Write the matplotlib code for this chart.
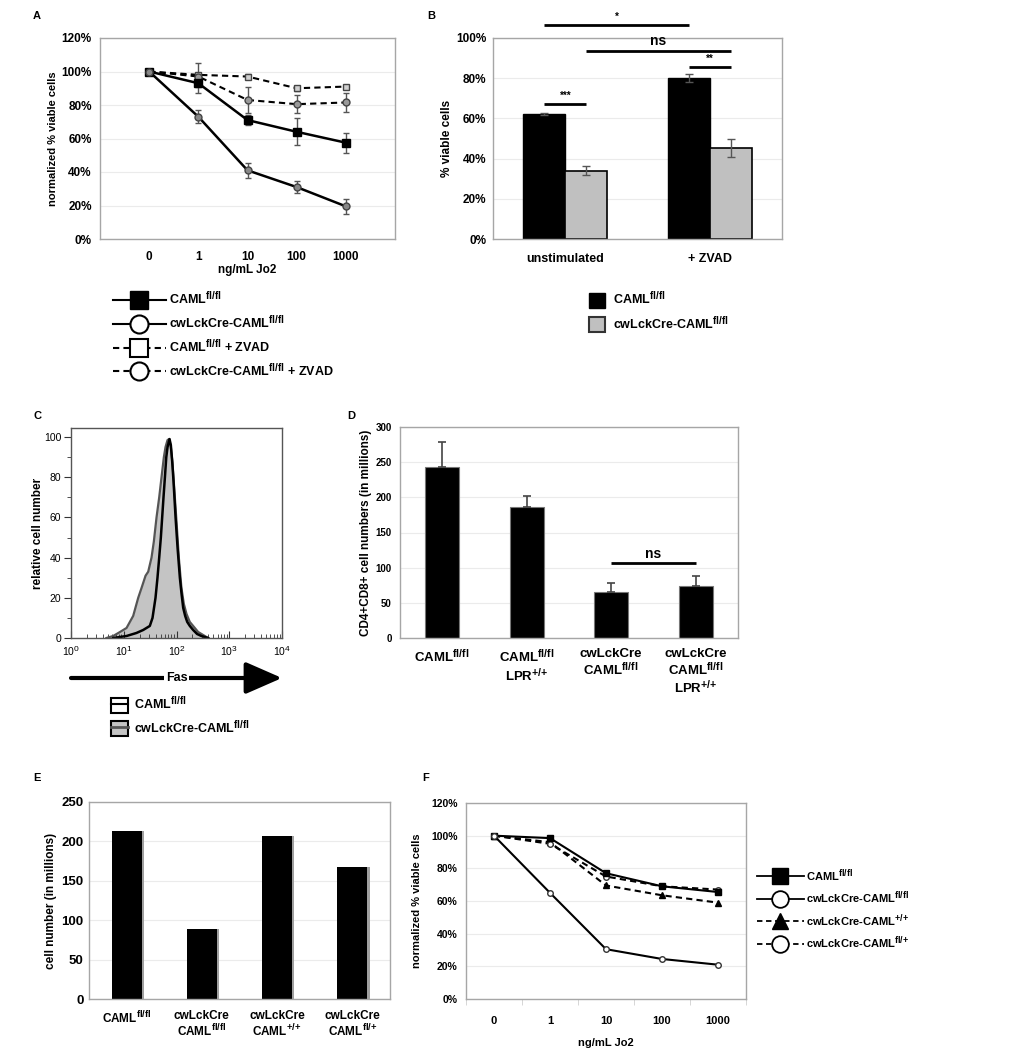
import numpy as np
import matplotlib
matplotlib.use('Agg')
import matplotlib.pyplot as plt
import matplotlib._mathtext as _mt
from matplotlib.lines import Line2D
from matplotlib.patches import Patch
from matplotlib.ticker import MultipleLocator, LogLocator, NullFormatter, FixedLocator

_mt.SHRINK_FACTOR = 0.8   # larger superscripts, like the reference
plt.rcParams['font.family'] = ['Liberation Sans', 'DejaVu Sans']
plt.rcParams['font.weight'] = 'bold'
plt.rcParams['axes.labelweight'] = 'bold'

# ---------------- data ----------------
CAML_FF = r'CAML$^{\mathregular{fl/fl}}$'
CRE_FF = r'cwLckCre-CAML$^{\mathregular{fl/fl}}$'
PP = r'$^{\mathregular{{+}/{+}}}$'
FP = r'$^{\mathregular{fl/{+}}}$'

# Panel A
doses = ['0', '1', '10', '100', '1000']
a_caml = [100, 93, 71, 64, 57.5]
a_caml_err = [0.5, 6, 3, 8, 6]
a_cre = [100, 73, 41, 31, 19.5]
a_cre_err = [0.5, 4, 4.5, 3.5, 4.5]
a_caml_z = [100, 98, 97, 90, 91]
a_caml_z_err = [0.5, 7, 1.5, 1.5, 1]
a_cre_z = [100, 97, 83, 80.5, 81.5]
a_cre_z_err = [0.5, 2, 8, 5.5, 5.5]
a_labels = [CAML_FF, CRE_FF, CAML_FF + ' + ZVAD', CRE_FF + ' + ZVAD']

# Panel B
b_groups = ['unstimulated', '+ ZVAD']
b_caml = [62, 80]
b_caml_err = [0.5, 2]
b_cre = [34, 45.5]
b_cre_err = [2.2, 4.5]
b_sig_text = ['*', 'ns', '**', '***']
b_sig_y = [106.5, 93.5, 85.5, 67.3]
b_sig_from = [(0, 0), (0, 1), (1, 0), (0, 0)]   # (group, series)
b_sig_to = [(1, 0), (1, 1), (1, 1), (0, 1)]

# Panel C (histogram curves)
c_cre_x = [4.7, 6.3, 8.5, 11.3, 15.1, 18.8, 21.8, 25.9, 29.1, 33.6, 37.2, 41.8, 47.0,
           52.0, 57.6, 61.9, 67.6, 72.6, 78.1, 84.0, 90.3, 100, 110.7, 124, 137.7,
           154.6, 178.7, 206.8, 257, 320, 397]
c_cre_y = [0, 1, 3, 5, 11, 20, 25, 31, 33, 40, 48, 60, 70,
           80, 90, 95, 98.5, 99, 95, 87, 75, 58, 40, 25, 17,
           12, 8, 6, 3, 1.5, 0]
c_caml_x = [6.3, 11.3, 17.4, 23.4, 31.2, 35.1, 40.0, 43.6, 47.0, 50.5, 53.5, 56.7, 60.3,
            64.0, 67.6, 73.8, 78.1, 82.8, 87.8, 96.0, 104.7, 115.8, 124.6, 134, 146,
            159.7, 179, 206.8, 245.5, 296, 397]
c_caml_y = [0, 1, 2.5, 4, 6, 10, 20, 30, 40, 50, 60, 70, 80,
            90, 95, 99, 96, 88, 78, 60, 45, 30, 22, 15, 11,
            8, 6, 4, 2, 1, 0]

# Panel D
d_labels = [CAML_FF,
            CAML_FF + '\nLPR' + PP,
            'cwLckCre\n' + CAML_FF,
            'cwLckCre\n' + CAML_FF + '\nLPR' + PP]
d_vals = [243, 186, 65.5, 74.5]
d_err = [35, 15.5, 12.5, 14]

# Panel E
e_labels = [CAML_FF,
            'cwLckCre\n' + CAML_FF,
            'cwLckCre\nCAML' + PP,
            'cwLckCre\nCAML' + FP]
e_vals = [213, 88.5, 207, 167]

# Panel F
f_caml = [100, 98.5, 77, 69, 65.5]
f_cre_ff = [100, 65, 30.5, 24.5, 21]
f_cre_pp = [100, 96, 69.5, 63.5, 59]
f_cre_fp = [100, 95, 75, 69, 67]
f_labels = [CAML_FF, CRE_FF, 'cwLckCre-CAML' + PP, 'cwLckCre-CAML' + FP]

# ---------------- figure ----------------
W, H = 1024, 1050
fig = plt.figure(figsize=(W / 100, H / 100), dpi=100)


def px_axes(l, t, r, b):
    return fig.add_axes([l / W, 1 - b / H, (r - l) / W, (b - t) / H])


def excel_style(ax, spine='#a6a6a6'):
    for s in ax.spines.values():
        s.set_color(spine)
        s.set_linewidth(1.0)
    ax.grid(axis='y', color='#ebebeb', lw=0.8)
    ax.set_axisbelow(True)


def pct(v, pos=None):
    return f'{int(round(v))}%'


def panel_letter(x, y, s):
    fig.text(x / W, 1 - y / H, s, fontsize=8, fontweight='bold', ha='left', va='center')


# ---------- Panel A ----------
axA = px_axes(100, 38, 395, 239)
excel_style(axA)
xA = np.arange(len(doses))
ekw = dict(ecolor='#555555', elinewidth=1, capsize=2.5, capthick=1)
dash = (0, (3, 2))
axA.errorbar(xA, a_caml_z, yerr=a_caml_z_err, color='k', lw=1.5, ls=dash, marker='s', ms=5,
             mfc='#d0d0d0', mec='#444444', **ekw)
axA.errorbar(xA, a_cre_z, yerr=a_cre_z_err, color='k', lw=1.5, ls=dash, marker='o', ms=5,
             mfc='#999999', mec='#444444', **ekw)
axA.errorbar(xA, a_caml, yerr=a_caml_err, color='k', lw=1.8, marker='s', ms=5.5,
             mfc='k', mec='k', **ekw)
axA.errorbar(xA, a_cre, yerr=a_cre_err, color='k', lw=1.8, marker='o', ms=5,
             mfc='#888888', mec='#444444', **ekw)
axA.set_xlim(-1, 5)
axA.set_ylim(0, 120)
axA.yaxis.set_major_locator(MultipleLocator(20))
axA.yaxis.set_major_formatter(pct)
axA.set_xticks(xA, doses)
axA.tick_params(axis='both', length=0, labelsize=8.5)
axA.tick_params(axis='x', pad=9)
axA.tick_params(axis='y', pad=6)
axA.set_xlabel('ng/mL Jo2', fontsize=8.5, labelpad=0)
axA.set_ylabel('normalized % viable cells', fontsize=8)
axA.yaxis.set_label_coords((58 - 100) / 295, 0.5)
panel_letter(33, 16, 'A')

a_handles = [
    Line2D([], [], color='k', lw=1.5, marker='s', ms=13, mfc='k', mec='k'),
    Line2D([], [], color='k', lw=1.5, marker='o', ms=13, mfc='w', mec='k', mew=1.5),
    Line2D([], [], color='k', lw=1.5, ls=dash, marker='s', ms=13, mfc='w', mec='k', mew=1.5),
    Line2D([], [], color='k', lw=1.5, ls=dash, marker='o', ms=13, mfc='w', mec='k', mew=1.5),
]
fig.legend(a_handles, a_labels, loc='upper left', bbox_to_anchor=(113 / W, 1 - 290 / H),
           frameon=False, fontsize=9, handlelength=4.2, handletextpad=0.25,
           labelspacing=0.48, borderpad=0, borderaxespad=0)

# ---------- Panel B ----------
axB = px_axes(493, 38, 782, 239)
excel_style(axB)
xB = np.arange(len(b_groups))
bw = 0.29
pos_B = [xB - bw / 2, xB + bw / 2]
axB.bar(pos_B[0], b_caml, width=bw, color='k', edgecolor='k', lw=1,
        yerr=b_caml_err, error_kw=dict(ecolor='#555555', elinewidth=1, capsize=3))
axB.bar(pos_B[1], b_cre, width=bw, color='#c0c0c0', edgecolor='k', lw=1.2,
        yerr=b_cre_err, error_kw=dict(ecolor='#555555', elinewidth=1, capsize=3))
axB.set_xlim(-0.5, 1.5)
axB.set_ylim(0, 100)
axB.yaxis.set_major_locator(MultipleLocator(20))
axB.yaxis.set_major_formatter(pct)
axB.set_xticks(xB, b_groups)
axB.tick_params(axis='both', length=0, labelsize=8.5)
axB.tick_params(axis='x', pad=10, labelsize=9)
axB.tick_params(axis='y', pad=5)
axB.set_ylabel('% viable cells', fontsize=8.5)
axB.yaxis.set_label_coords((453 - 493) / 289, 0.5)
for txt, y, f, t in zip(b_sig_text, b_sig_y, b_sig_from, b_sig_to):
    x1 = pos_B[f[1]][f[0]]
    x2 = pos_B[t[1]][t[0]]
    axB.plot([x1, x2], [y, y], color='k', lw=2, clip_on=False, solid_capstyle='butt')
    fs = 10 if txt == 'ns' else 7
    axB.text((x1 + x2) / 2, y + 1.6, txt, ha='center', va='bottom', fontsize=fs,
             fontweight='bold', clip_on=False)
panel_letter(427, 16, 'B')

b_handles = [Patch(facecolor='k', edgecolor='k'),
             Patch(facecolor='#c0c0c0', edgecolor='#333333', lw=1.5)]
fig.legend(b_handles, [CAML_FF, CRE_FF], loc='upper left',
           bbox_to_anchor=(589 / W, 1 - 290 / H), frameon=False, fontsize=9,
           handlelength=1.3, handleheight=1.4, handletextpad=0.6, labelspacing=0.5,
           borderpad=0, borderaxespad=0)

# ---------- Panel C ----------
axC = px_axes(71, 428, 282, 638)
for s in axC.spines.values():
    s.set_color('#555555')
    s.set_linewidth(1.0)
axC.fill_between(c_cre_x, c_cre_y, 0, color='#c4c4c4', lw=0)
axC.plot(c_cre_x, c_cre_y, color='#555555', lw=1.6)
axC.plot(c_caml_x, c_caml_y, color='k', lw=1.8)
axC.set_xscale('log')
axC.set_xlim(1, 1e4)
axC.set_ylim(0, 104.5)
axC.xaxis.set_major_locator(LogLocator(base=10, numticks=10))
axC.xaxis.set_minor_locator(LogLocator(base=10, subs=np.arange(2, 10), numticks=20))
axC.xaxis.set_minor_formatter(NullFormatter())
axC.yaxis.set_major_locator(MultipleLocator(20))
axC.yaxis.set_minor_locator(MultipleLocator(10))
axC.tick_params(axis='x', which='major', direction='in', length=5, labelsize=7.5, pad=4,
                color='#333333')
axC.tick_params(axis='x', which='minor', direction='in', length=3, color='#333333')
axC.tick_params(axis='y', which='major', direction='out', length=5, labelsize=7.5, pad=2,
                color='#333333')
axC.tick_params(axis='y', which='minor', direction='out', length=3, color='#333333')
for lab in axC.get_xticklabels() + axC.get_yticklabels():
    lab.set_fontweight('normal')
axC.set_ylabel('relative cell number', fontsize=8.5)
axC.yaxis.set_label_coords((44 - 71) / 211, 0.5)
ya = (638 - 678) / 210
axC.annotate('', xy=(1.0, ya), xytext=(0.0, ya), xycoords='axes fraction',
             textcoords='axes fraction',
             arrowprops=dict(arrowstyle='-|>,head_length=1.6,head_width=0.7', lw=3,
                             color='k', mutation_scale=14, shrinkA=0, shrinkB=0))
axC.text(0.5, ya, 'Fas', transform=axC.transAxes, ha='center', va='center', fontsize=9,
         fontweight='bold', bbox=dict(facecolor='w', edgecolor='none', pad=1))
panel_letter(33, 416, 'C')

c_handles = [(Patch(facecolor='w', edgecolor='k', lw=1.5), Line2D([], [], color='k', lw=1.5)),
             (Patch(facecolor='#c4c4c4', edgecolor='k', lw=1.5),
              Line2D([], [], color='#555555', lw=2))]
fig.legend(c_handles, [CAML_FF, CRE_FF], loc='upper left',
           bbox_to_anchor=(111 / W, 1 - 695 / H), frameon=False, fontsize=9,
           handlelength=1.35, handleheight=1.5, handletextpad=0.5, labelspacing=0.4,
           borderpad=0, borderaxespad=0)

# ---------- Panel D ----------
axD = px_axes(400, 427, 738, 638)
excel_style(axD)
xD = np.arange(len(d_vals))
axD.bar(xD, d_vals, width=0.4, color='k', edgecolor='#777777', lw=0.8)
axD.errorbar(xD, d_vals, yerr=[np.zeros(len(d_err)), d_err], fmt='none', ecolor='#444444',
             elinewidth=1.2, capsize=3, capthick=1.2)
axD.plot([xD[2], xD[3]], [107, 107], color='k', lw=2, solid_capstyle='butt')
axD.text((xD[2] + xD[3]) / 2, 110, 'ns', ha='center', va='bottom', fontsize=10,
         fontweight='bold')
axD.set_xlim(-0.5, 3.5)
axD.set_ylim(0, 300)
axD.yaxis.set_major_locator(MultipleLocator(50))
axD.set_xticks(xD, d_labels, ma='center', va='top', linespacing=1.05)
axD.tick_params(axis='both', length=0)
axD.tick_params(axis='x', pad=7, labelsize=9.5)
axD.tick_params(axis='y', pad=6, labelsize=7)
axD.set_ylabel('CD4+CD8+ cell numbers (in millions)', fontsize=8.5)
axD.yaxis.set_label_coords((372 - 400) / 338, 0.5)
panel_letter(347, 416, 'D')

# ---------- Panel E ----------
axE = px_axes(89, 802, 390, 999)
excel_style(axE)
xE = np.arange(len(e_vals))
axE.bar(xE + 0.03, e_vals, width=0.4, color='#a0a0a0', lw=0)
axE.bar(xE, e_vals, width=0.4, color='k', lw=0)
axE.set_xlim(-0.5, 3.5)
axE.set_ylim(0, 250)
axE.yaxis.set_major_locator(MultipleLocator(50))
axE.set_xticks(xE, e_labels, ma='center', va='top', linespacing=1.05)
axE.tick_params(axis='both', length=0)
axE.tick_params(axis='x', pad=8, labelsize=8.5)
axE.tick_params(axis='y', pad=4, labelsize=9.5)
axE.set_ylabel('cell number (in millions)', fontsize=8.5)
axE.yaxis.set_label_coords((57 - 89) / 301, 0.5)
panel_letter(33, 778, 'E')

# ---------- Panel F ----------
axF = px_axes(466, 803, 746, 999)
excel_style(axF)
xF = np.arange(len(doses))
axF.plot(xF, f_cre_pp, color='k', lw=1.5, ls=dash, marker='^', ms=5, mfc='k', mec='k')
axF.plot(xF, f_cre_fp, color='k', lw=1.5, ls=dash, marker='o', ms=4, mfc='w', mec='#333333')
axF.plot(xF, f_caml, color='k', lw=1.5, marker='s', ms=5, mfc='k', mec='k')
axF.plot(xF, f_cre_ff, color='k', lw=1.5, marker='o', ms=4, mfc='w', mec='#333333')
axF.set_xlim(-0.5, 4.5)
axF.set_ylim(0, 120)
axF.yaxis.set_major_locator(MultipleLocator(20))
axF.yaxis.set_major_formatter(pct)
axF.set_xticks(xF, doses)
axF.xaxis.set_minor_locator(FixedLocator(np.arange(len(doses) + 1) - 0.5))
axF.tick_params(axis='both', which='major', length=0)
axF.tick_params(axis='x', which='minor', length=4, color='#d0d0d0', direction='out')
axF.tick_params(axis='x', pad=12, labelsize=8)
axF.tick_params(axis='y', pad=6, labelsize=7.5)
axF.set_xlabel('ng/mL Jo2', fontsize=8, labelpad=9)
axF.set_ylabel('normalized % viable cells', fontsize=8)
axF.yaxis.set_label_coords((422 - 466) / 280, 0.5)
panel_letter(422, 778, 'F')

f_handles = [
    Line2D([], [], color='k', lw=1.3, marker='s', ms=12, mfc='k', mec='k'),
    Line2D([], [], color='k', lw=1.3, marker='o', ms=12, mfc='w', mec='k', mew=1.3),
    Line2D([], [], color='k', lw=1.3, ls=dash, marker='^', ms=12, mfc='k', mec='k'),
    Line2D([], [], color='k', lw=1.3, ls=dash, marker='o', ms=12, mfc='w', mec='k', mew=1.3),
]
fig.legend(f_handles, f_labels, loc='upper left', bbox_to_anchor=(757 / W, 1 - 867 / H),
           frameon=False, fontsize=8, handlelength=4.2, handletextpad=0.2,
           labelspacing=0.6, borderpad=0, borderaxespad=0)

fig.savefig('out.png', dpi=100)
